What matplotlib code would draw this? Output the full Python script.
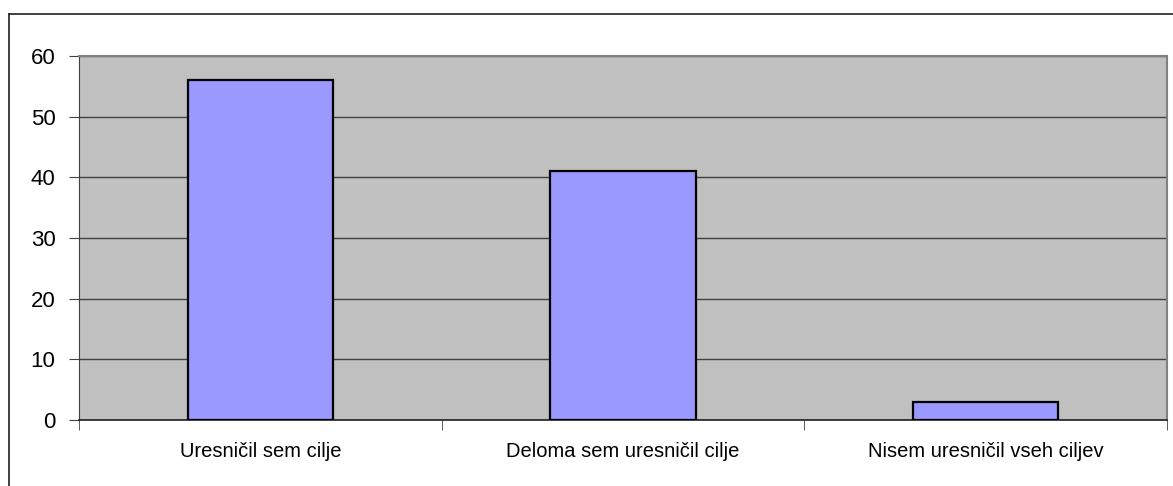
import matplotlib.pyplot as plt
from matplotlib.lines import Line2D

plt.rcParams['font.family'] = ['Liberation Sans', 'DejaVu Sans']

kategorije = ["Uresničil sem cilje", "Deloma sem uresničil cilje", "Nisem uresničil vseh ciljev"]
vrednosti = [56, 41, 3]
y_oznake = [0, 10, 20, 30, 40, 50, 60]

fig = plt.figure(figsize=(11.73, 4.86), dpi=100)
ax = fig.add_axes([79 / 1173, 66 / 486, (1167 - 79) / 1173, (420 - 56) / 486])

# okvir grafa (levo in zgoraj)
fig.add_artist(Line2D([8.5 / 1173, 8.5 / 1173], [0, 1 - 14 / 486], color='#202020', lw=1.2))
fig.add_artist(Line2D([8.5 / 1173, 1], [1 - 14 / 486, 1 - 14 / 486], color='#202020', lw=1.2))

ax.set_facecolor('#C0C0C0')
x = range(len(kategorije))
ax.bar(x, vrednosti, width=0.4, color='#9999FF', edgecolor='black', linewidth=1.6, zorder=3)

ax.set_xlim(-0.5, 2.5)
ax.set_ylim(0, 60)
ax.set_yticks(y_oznake)
ax.yaxis.grid(True, color='#404040', linewidth=1, zorder=1)
ax.set_axisbelow(True)

ax.set_xticks([0, 1, 2])
ax.set_xticklabels(kategorije, fontsize=14.5)
ax.set_xticks([-0.5, 0.5, 1.5, 2.5], minor=True)
ax.tick_params(axis='x', which='major', length=0, pad=16)
ax.tick_params(axis='x', which='minor', length=7, color='#404040', direction='out')
ax.tick_params(axis='y', labelsize=16, length=7, color='#404040', pad=10)

for s in ['top', 'right']:
    ax.spines[s].set_color('#808080')
    ax.spines[s].set_linewidth(1.5)
ax.spines['left'].set_color('#404040')
ax.spines['bottom'].set_color('#202020')
ax.spines['bottom'].set_linewidth(1.2)

fig.savefig('out.png', dpi=100)
